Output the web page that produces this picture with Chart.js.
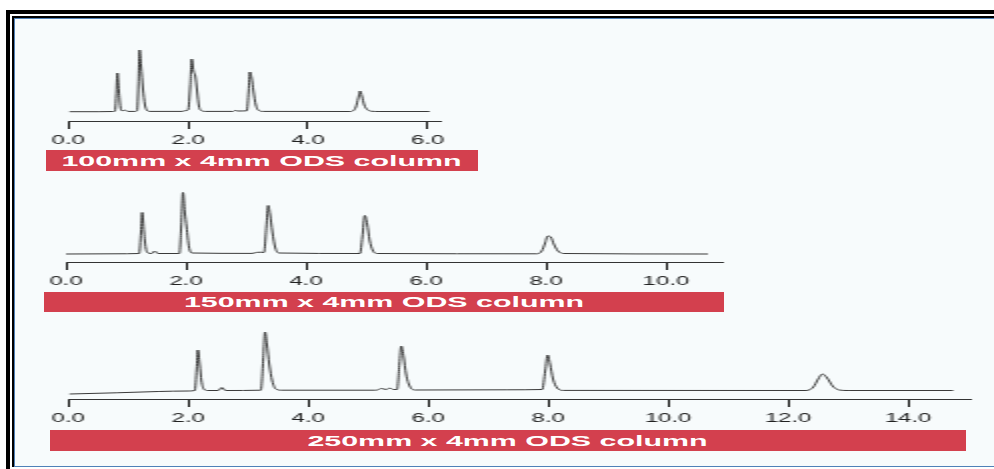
<!DOCTYPE html>
<html>
<head>
<meta charset="utf-8">
<script src="https://cdn.jsdelivr.net/npm/chart.js@4.4.0/dist/chart.umd.min.js"></script>
<style>
  body { margin: 0; width: 994px; height: 469px; background: #fff; position: relative; overflow: hidden; font-family: "Liberation Sans", Arial, sans-serif; }
  .line { position: absolute; }
  #inside { position: absolute; left: 15px; top: 19px; width: 979px; height: 447px; background: #f7fbfc; }
  /* the source picture is stretched sideways, so draw at half width and scale */
  #stretch { position: absolute; left: 0; top: 0; width: 497px; height: 469px; transform: scaleX(2); transform-origin: 0 0; }
  #stretch canvas { position: absolute; left: 0; }
  .bar { position: absolute; background: #d3404e; color: #fff; font-weight: bold; font-size: 15.2px; text-align: center; white-space: nowrap; }
</style>
</head>
<body>
<div id="inside"></div>
<!-- frame -->
<div class="line" style="left:6px;top:10px;width:4px;height:459px;background:#000"></div>
<div class="line" style="left:6px;top:10px;width:988px;height:4px;background:#000"></div>
<div class="line" style="left:12px;top:16px;width:2px;height:451px;background:#000"></div>
<div class="line" style="left:12px;top:16px;width:982px;height:2px;background:#000"></div>
<div class="line" style="left:14px;top:18px;width:1px;height:449px;background:#4f81b8"></div>
<div class="line" style="left:14px;top:18px;width:980px;height:1px;background:#4f81b8"></div>
<div class="line" style="left:14px;top:466px;width:980px;height:1px;background:#4f81b8"></div>

<div id="stretch">
  <canvas id="c1" width="240" height="111" style="top:40px"></canvas>
  <canvas id="c2" width="380" height="112" style="top:180px"></canvas>
  <canvas id="c3" width="497" height="109" style="top:320px"></canvas>
  <div class="bar" id="t1" style="left:23px;top:150px;width:215.5px;height:21px;line-height:21px"></div>
  <div class="bar" id="t2" style="left:22px;top:291.5px;width:340px;height:20px;line-height:20px"></div>
  <div class="bar" id="t3" style="left:24.5px;top:429.5px;width:458.5px;height:21px;line-height:21px"></div>
</div>

<script>
// column labels
const titles = ["100mm x 4mm ODS column", "150mm x 4mm ODS column", "250mm x 4mm ODS column"];

// 100mm column: retention time (min) and detector signal (height above axis)
const time1 = [0.02, 0.50, 0.74, 0.78, 0.80, 0.82, 0.845, 0.87, 0.90, 0.945, 0.99, 1.12, 1.15, 1.17, 1.19, 1.215, 1.245, 1.28, 1.31, 1.36,
  1.90, 1.95, 2.00, 2.035, 2.06, 2.09, 2.12, 2.15, 2.18, 2.22, 2.28, 2.75, 2.78, 2.83, 2.98, 3.01, 3.03, 3.06, 3.09, 3.13, 3.18, 3.25,
  4.70, 4.76, 4.80, 4.84, 4.87, 4.90, 4.94, 4.99, 5.05, 5.20, 6.03];
const signal1 = [9.3, 9.3, 9.5, 9.8, 25, 48, 30, 14, 10.2, 11, 9.6, 9.6, 10.5, 35, 71, 55, 33, 16, 11, 9.6,
  9.6, 10.3, 11, 35, 62, 50, 45, 30, 15, 10.5, 9.6, 9.6, 10.5, 10, 10.2, 30, 49, 43, 30, 16, 10.5, 9.6,
  9.5, 10.5, 14, 23, 30, 25, 16, 11.5, 9.8, 9.5, 9.5];

// 150mm column
const time2 = [0.00, 0.80, 1.22, 1.25, 1.27, 1.30, 1.33, 1.37, 1.43, 1.48, 1.53, 1.89, 1.92, 1.95, 1.98, 2.01, 2.05, 2.10,
  3.10, 3.18, 3.24, 3.30, 3.34, 3.37, 3.40, 3.44, 3.49, 3.55, 4.90, 4.94, 4.98, 5.02, 5.06, 5.11, 5.18,
  7.85, 7.93, 7.98, 8.03, 8.08, 8.13, 8.20, 8.30, 10.70];
const signal2 = [8, 8.2, 8.5, 30, 49.5, 30, 14, 9, 8.5, 11, 8.5, 8.5, 35, 69.5, 50, 35, 15, 9,
  8.6, 9.6, 9.8, 9.5, 35, 56.5, 48, 30, 14, 9, 8.5, 25, 46.5, 38, 22, 12, 8.5,
  8.2, 11, 18, 26, 25, 18, 11, 8.5, 8];

// 250mm column
const time3 = [0.02, 0.80, 1.50, 2.00, 2.11, 2.14, 2.16, 2.19, 2.22, 2.26, 2.32, 2.50, 2.56, 2.62, 3.21, 3.25, 3.28, 3.31, 3.35, 3.40, 3.46, 3.55,
  5.10, 5.15, 5.22, 5.30, 5.36, 5.42, 5.48, 5.52, 5.55, 5.59, 5.63, 5.69, 5.78, 7.30, 7.90, 7.95, 7.99, 8.03, 8.08, 8.15, 8.25,
  12.30, 12.42, 12.50, 12.57, 12.65, 12.74, 12.85, 13.00, 14.75];
const signal3 = [5, 6.2, 7.5, 8, 8.5, 30, 49, 35, 18, 10, 8.5, 8.5, 11.5, 8.5, 8.8, 40, 67, 55, 35, 18, 10, 8.8,
  8.8, 9, 10.5, 9.5, 11, 9.5, 9.5, 35, 53, 42, 25, 13, 9, 9.2, 9.5, 28, 44, 35, 20, 11, 8.6,
  8.5, 12, 20, 25, 21, 13, 9, 8.5, 8.5];

// axis ticks and their labels
const ticks1 = [0, 2, 4, 6];
const ticks2 = [0, 2, 4, 6, 8, 10];
const ticks3 = [0, 2, 4, 6, 8, 10, 12, 14];
const tickLabels = ["0.0", "2.0", "4.0", "6.0", "8.0", "10.0", "12.0", "14.0"];

function makeChart(id, times, signal, xMax, ticks, yMax, padLeft, padRight) {
  const ctx = document.getElementById(id).getContext("2d");
  return new Chart(ctx, {
    type: "line",
    data: {
      datasets: [
        {
          data: times.map((t, i) => ({ x: t, y: signal[i] })),
          borderColor: "#3a3a3a",
          borderWidth: 1,
          pointRadius: 0,
          cubicInterpolationMode: "monotone",
          fill: false,
        },
      ],
    },
    options: {
      responsive: false,
      animation: false,
      events: [],
      layout: { padding: { left: padLeft, right: padRight, top: 0, bottom: 0 } },
      plugins: { legend: { display: false }, tooltip: { enabled: false } },
      scales: {
        x: {
          type: "linear",
          min: 0,
          max: xMax,
          afterFit: (s) => { s.height = 30; },
          afterBuildTicks: (s) => { s.ticks = ticks.map((v) => ({ value: v })); },
          ticks: {
            callback: (v, i) => tickLabels[i],
            color: "#222",
            font: { family: '"Liberation Sans", Arial, sans-serif', size: 12 },
            padding: 4,
            maxRotation: 0,
            autoSkip: false,
          },
          grid: { drawOnChartArea: false, drawTicks: true, tickLength: 8, color: "#111", lineWidth: 1 },
          border: { display: true, color: "#333", width: 1 },
        },
        y: { type: "linear", min: 0, max: yMax, display: false },
      },
    },
  });
}

document.getElementById("t1").textContent = titles[0];
document.getElementById("t2").textContent = titles[1];
document.getElementById("t3").textContent = titles[2];

makeChart("c1", time1, signal1, 6.22, ticks1, 81, 34.15, 19.5);
makeChart("c2", time2, signal2, 10.95, ticks2, 82, 33, 18.5);
makeChart("c3", time3, signal3, 15.03, ticks3, 79, 34.15, 12);
</script>
</body>
</html>
